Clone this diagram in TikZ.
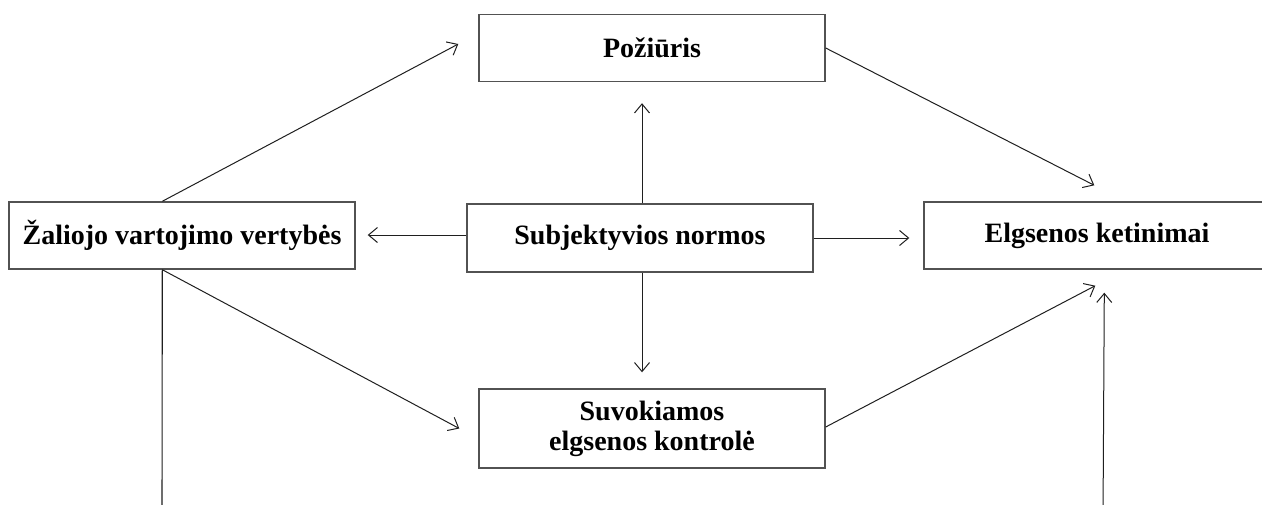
\documentclass[tikz,border=0pt]{standalone}
\usepackage{fontspec}
\setmainfont{Liberation Serif}
\usetikzlibrary{arrows.meta,calc}
\begin{document}
\begin{tikzpicture}[x=1pt,y=-1pt,
  box/.style={draw=black!68, line width=1.4pt, minimum width=346pt,
    minimum height=67pt, inner sep=0pt, align=center,
    font=\bfseries\fontsize{28}{30}\selectfont},
  conn/.style={draw=black!88, line width=1pt,
    -{Straight Barb[length=9pt,width=15pt,line width=1pt]}},
  plain/.style={draw=black!88, line width=1.1pt}]
\useasboundingbox (0,0) rectangle (1262,504);
\clip (0,0) rectangle (1262,504);

% boxes
\node[box] (poz)  at (652,48)    {Požiūris};
\node[box, minimum height=68pt] (subj) at (640,238) {Subjektyvios normos};
\node[box] (zal)  at (182,235.5) {Žaliojo vartojimo vertybės};
\node[box] (elg)  at (1097,235.5) {Elgsenos ketinimai};
\node[box, minimum height=79pt] (suv) at (652,428.5) {Suvokiamos\\elgsenos kontrolė};

% connector end points
\coordinate (zalTop) at ($(zal.north west)+(154,0)$);
\coordinate (zalBot) at ($(zal.south west)+(154,0)$);
\coordinate (pozIn)  at ($(poz.west)+(-20,-4)$);
\coordinate (elgInA) at ($(elg.north west)+(171,-16)$);
\coordinate (subjUp) at ($(subj.north)+(2,0)$);
\coordinate (pozInB) at ($(poz.south)+(-10,21)$);
\coordinate (subjL)  at ($(subj.west)+(0,-3)$);
\coordinate (zalIn)  at ($(zal.east)+(12,-0.5)$);
\coordinate (elgInB) at ($(elg.west)+(-14,2.5)$);
\coordinate (subjDn) at ($(subj.south)+(2,0)$);
\coordinate (suvInA) at ($(suv.north)+(-10,-16)$);
\coordinate (suvInB) at ($(suv.west)+(-19,0)$);
\coordinate (suvOut) at ($(suv.east)+(0,-1.5)$);
\coordinate (elgInC) at ($(elg.south west)+(172,16)$);
\coordinate (elgInD) at ($(elg.south west)+(181,23)$);
\coordinate (rightFoot) at (1103,520);
\coordinate (leftFoot)  at (162,520);

% connectors
\draw[conn] (zalTop) -- (pozIn);
\draw[conn] (poz.east) -- (elgInA);
\draw[conn] (subjUp) -- (pozInB);
\draw[conn] (subjL) -- (zalIn);
\draw[conn] (subj.east) -- (elgInB);
\draw[conn] (subjDn) -- (suvInA);
\draw[conn] (zalBot) -- (suvInB);
\draw[conn] (suvOut) -- (elgInC);
\draw[conn] (rightFoot) -- (elgInD);
\draw[plain] (zalBot) -- (leftFoot);
\end{tikzpicture}
\end{document}
